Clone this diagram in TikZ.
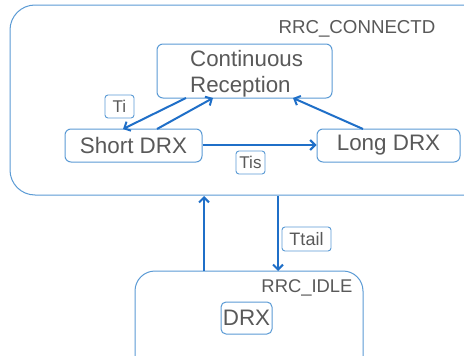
\documentclass[tikz,border=0pt]{standalone}
\usepackage{fontspec}
\setmainfont{Liberation Sans}
\usetikzlibrary{arrows.meta}
\definecolor{boxblue}{HTML}{5B9BD5}
\definecolor{arrowblue}{HTML}{1F6FC8}
\definecolor{txtgray}{HTML}{595959}
\tikzset{
  statebox/.style={draw=boxblue, line width=1pt, rounded corners=6pt, text=txtgray},
  tag/.style={draw=boxblue, line width=0.9pt, rounded corners=3pt, text=txtgray,
    inner sep=1.5pt, font=\fontsize{17}{17}\selectfont},
  region/.style={draw=boxblue, line width=1pt},
  flow/.style={draw=arrowblue, line width=2pt, -{Straight Barb[length=5pt,width=10pt,line width=2pt]}},
}
\begin{document}
\begin{tikzpicture}[x=1pt, y=-1pt]
\useasboundingbox (0,0) rectangle (464,356);
\clip (0,0) rectangle (464,356);
\fill[white] (0,0) rectangle (464,356);

% connected-mode region and idle-mode region
\draw[region, rounded corners=25pt] (10,5) rectangle (490,195);
\node[text=txtgray, font=\fontsize{18.7}{18.7}\selectfont] (conn) at (357,29) {RRC\_CONNECTD};
\draw[region, rounded corners=20pt] (135,271) rectangle (363,380);
\node[text=txtgray, font=\fontsize{18.4}{18.4}\selectfont] (idle) at (307,288) {RRC\_IDLE};

% states
\node[statebox, minimum width=175pt, minimum height=54pt] (cr) at (244.5,71) {};
\node[text=txtgray, anchor=base west, inner sep=0pt, align=left,
  font=\fontsize{22.3}{26}\selectfont] (crtext) at (190,92.7) {Continuous\\Reception};
\node[statebox, minimum width=137pt, minimum height=33pt,
  font=\fontsize{22.4}{22.4}\selectfont] (sd) at (133.5,145.5) {Short DRX};
\node[statebox, minimum width=143pt, minimum height=33pt,
  font=\fontsize{22.4}{22.4}\selectfont] (ld) at (388.5,145.5) {Long DRX};
\node[statebox, rounded corners=5pt, minimum width=51pt, minimum height=32pt, inner sep=1pt,
  font=\fontsize{22.4}{22.4}\selectfont] (drx) at (246.5,318) {DRX};

% timer tags
\node[tag, minimum width=29pt, minimum height=23pt] (ti) at (119.5,106.5) {Ti};
\node[tag, minimum width=29pt, minimum height=23pt] (tis) at (250.5,162.5) {Tis};
\node[tag, minimum width=49pt, minimum height=24pt, font=\fontsize{18}{18}\selectfont] (ttail) at (306.5,239) {Ttail};

% transitions
\coordinate (crA) at (186,98);
\coordinate (sdA) at (123,129);
\coordinate (sdB) at (157,129);
\coordinate (crB) at (213,98);
\coordinate (ldA) at (363,129);
\coordinate (crC) at (293,98);
\draw[flow] (crA) -- (sdA);
\draw[flow] (sdB) -- (crB);
\draw[flow] (ldA) -- (crC);
\draw[flow] (sd.east |- 0,145) -- (ld.west |- 0,145);

\coordinate (upS) at (204,271);
\coordinate (upE) at (204,196);
\coordinate (dnS) at (278,196);
\coordinate (dnE) at (278,271);
\draw[flow] (upS) -- (upE);
\draw[flow] (dnS) -- (dnE);
\end{tikzpicture}
\end{document}
